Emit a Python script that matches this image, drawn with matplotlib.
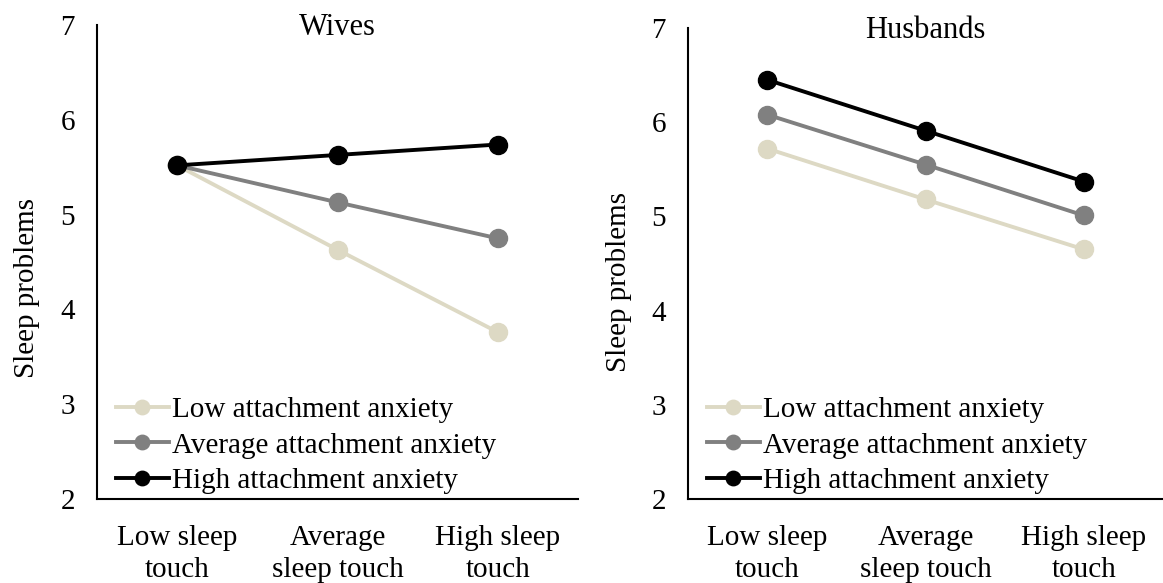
import matplotlib
matplotlib.use('Agg')
import matplotlib.pyplot as plt

plt.rcParams['font.family'] = ['Liberation Serif', 'DejaVu Serif']

categories = ['Low sleep\ntouch', 'Average\nsleep touch', 'High sleep\ntouch']
series_names = ['Low attachment anxiety', 'Average attachment anxiety', 'High attachment anxiety']
series_colors = ['#DDD9C4', '#808080', '#000000']

wives_low = [5.52, 4.63, 3.76]
wives_avg = [5.52, 5.13, 4.75]
wives_high = [5.52, 5.63, 5.74]

husbands_low = [5.72, 5.18, 4.65]
husbands_avg = [6.08, 5.55, 5.01]
husbands_high = [6.45, 5.91, 5.37]

yticks = [2, 3, 4, 5, 6, 7]
fs = 21

fig = plt.figure(figsize=(11.63, 5.83), dpi=100)
ax1 = fig.add_axes([0.0834, 0.144, 0.4136, 0.813])
ax2 = fig.add_axes([0.5916, 0.144, 0.4084, 0.808])

panels = [
    (ax1, 'Wives', [wives_low, wives_avg, wives_high], (-0.119, 0.445)),
    (ax2, 'Husbands', [husbands_low, husbands_avg, husbands_high], (-0.117, 0.46)),
]

for ax, title, data, lab_xy in panels:
    x = range(len(categories))
    for vals, name, col in zip(data, series_names, series_colors):
        ax.plot(x, vals, color=col, lw=2.8, marker='o', ms=13, label=name)
    ax.set_xlim(-0.5, 2.5)
    ax.set_ylim(2, 7)
    ax.set_yticks(yticks)
    ax.set_xticks(list(x))
    ax.set_xticklabels(categories, linespacing=1.3)
    ax.tick_params(axis='both', length=0, labelsize=fs)
    ax.tick_params(axis='y', pad=16)
    ax.tick_params(axis='x', pad=18.5)
    for s in ['top', 'right']:
        ax.spines[s].set_visible(False)
    ax.spines['left'].set_linewidth(1.5)
    ax.spines['bottom'].set_linewidth(1.5)
    ax.set_title(title, fontsize=22, y=0.995, va='center', pad=0)
    ax.set_ylabel('Sleep problems', fontsize=fs)
    ax.yaxis.set_label_coords(*lab_xy)
    ax.legend(loc='lower left', bbox_to_anchor=(0.04, 0.01), frameon=False,
              fontsize=fs, handlelength=1.8, handletextpad=0.12,
              borderaxespad=0, borderpad=0, labelspacing=0.32, markerscale=0.8)

fig.savefig('out.png', dpi=100)
